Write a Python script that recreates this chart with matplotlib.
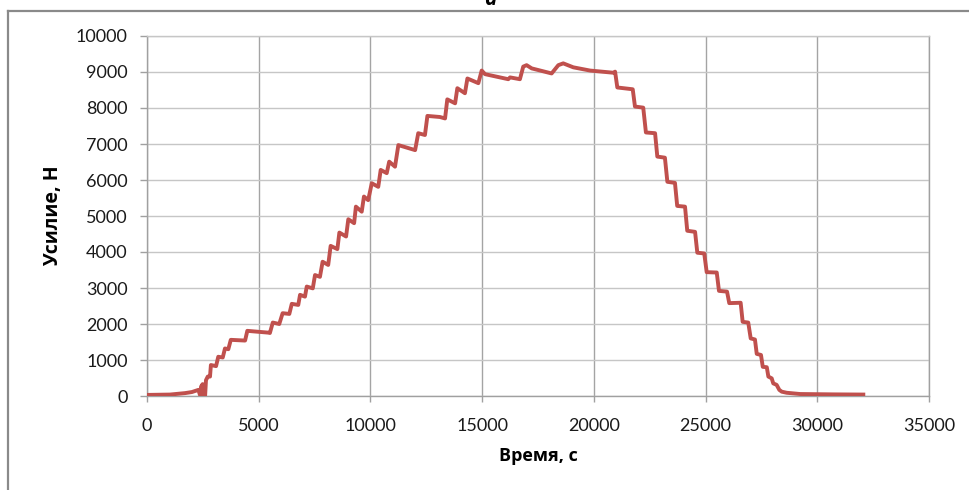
import matplotlib
matplotlib.use("Agg")
import matplotlib.pyplot as plt
from matplotlib.lines import Line2D

# ── Data (time, s / force, N) ────────────────────────────────────
time_s = [
    0, 1030, 1700, 2010, 2300, 2370, 2420, 2490, 2520, 2600,
    2640, 2720, 2820, 2860, 3090, 3190, 3390, 3490, 3640, 3750,
    4390, 4490, 5430, 5500, 5630, 5920, 6070, 6370, 6480, 6770,
    6850, 7070, 7150, 7420, 7520, 7740, 7860, 8110, 8220, 8520,
    8610, 8910, 9010, 9270, 9350, 9610, 9710, 9900, 10060, 10350,
    10460, 10730, 10840, 11100, 11250, 12000, 12140, 12440, 12550, 13110,
    13340, 13440, 13790, 13890, 14230, 14340, 14830, 14980, 15130, 15650,
    16170, 16250, 16690, 16840, 16990, 17220, 18110, 18410, 18630, 19080,
    19830, 20870, 20950, 21050, 21740, 21840, 22210, 22330, 22740, 22840,
    23180, 23290, 23630, 23730, 24080, 24180, 24530, 24630, 24940, 25050,
    25500, 25600, 25960, 26060, 26570, 26660, 26910, 27020, 27210, 27290,
    27480, 27560, 27740, 27810, 27960, 28030, 28180, 28300, 28410, 28630,
    29230, 30720, 32060,
]
force_n = [
    30, 40, 80, 110, 170, 30, 260, 330, 0, 0,
    440, 540, 540, 860, 830, 1090, 1070, 1320, 1300, 1560,
    1540, 1810, 1760, 1750, 2040, 2000, 2300, 2280, 2560, 2530,
    2810, 2760, 3040, 2990, 3360, 3310, 3730, 3640, 4170, 4080,
    4540, 4430, 4910, 4800, 5260, 5120, 5540, 5440, 5910, 5810,
    6280, 6190, 6510, 6370, 6970, 6830, 7300, 7250, 7780, 7750,
    7710, 8240, 8130, 8550, 8410, 8820, 8690, 9040, 8940, 8870,
    8800, 8850, 8800, 9150, 9190, 9100, 8960, 9190, 9240, 9130,
    9040, 8980, 9010, 8570, 8520, 8040, 8010, 7320, 7300, 6650,
    6620, 5950, 5920, 5280, 5260, 4590, 4560, 3980, 3960, 3440,
    3430, 2920, 2900, 2580, 2590, 2060, 2040, 1600, 1570, 1170,
    1140, 810, 800, 540, 490, 350, 310, 170, 120, 90,
    55, 45, 40,
]

x_ticks = list(range(0, 35001, 5000))
y_ticks = list(range(0, 10001, 1000))

LINE_COL = "#C0504D"
TICK_FONT = ["Lato", "Open Sans", "DejaVu Sans"]
LABEL_FONT = ["Open Sans", "DejaVu Sans"]

fig = plt.figure(figsize=(9.69, 4.90), dpi=100)
fig.patch.set_facecolor("white")

# outer chart-area frame (only top and left edges are inside the crop)
fig.add_artist(Line2D([8 / 969, 1.0], [1 - 11 / 490, 1 - 11 / 490],
                      transform=fig.transFigure, color="#8a8a8a", linewidth=1.6))
fig.add_artist(Line2D([8 / 969, 8 / 969], [0.0, 1 - 11 / 490],
                      transform=fig.transFigure, color="#8a8a8a", linewidth=1.6))

# panel letter, mostly cut off by the top edge as in the source
fig.text(490 / 969, 1 - 5 / 490, "а", fontsize=15, fontweight="bold",
         fontstyle="italic", ha="center", va="baseline", family=LABEL_FONT)

ax = fig.add_axes([147 / 969, 1 - 396 / 490, (929 - 147) / 969, (396 - 36) / 490])

ax.plot(time_s, force_n, color=LINE_COL, linewidth=2.8, solid_joinstyle="round",
        zorder=3)

ax.set_xlim(0, 35000)
ax.set_ylim(0, 10000)
ax.set_xticks(x_ticks)
ax.set_yticks(y_ticks)

ax.grid(axis="y", color="#c6c6c6", linewidth=1.0)
ax.grid(axis="x", color="#a4a4a4", linewidth=1.0)
ax.set_axisbelow(True)

for side in ("left", "bottom", "right"):
    ax.spines[side].set_color("#a0a0a0")
    ax.spines[side].set_linewidth(1.0)
ax.spines["top"].set_color("#c6c6c6")
ax.spines["top"].set_linewidth(1.0)

ax.tick_params(axis="y", direction="out", length=5, width=1.0, color="#a0a0a0",
               pad=9, labelsize=13, labelcolor="#1a1a1a")
ax.tick_params(axis="x", direction="out", length=4.5, width=1.0, color="#a0a0a0",
               pad=11, labelsize=13, labelcolor="#1a1a1a")
for lab in ax.get_xticklabels() + ax.get_yticklabels():
    lab.set_family(TICK_FONT)

ax.set_xlabel("Время, с", fontsize=13, fontweight="bold", family=LABEL_FONT,
              labelpad=10)
ax.set_ylabel("Усилие, Н", fontsize=14, fontweight="bold", family=LABEL_FONT,
              labelpad=9)

plt.savefig("out.png", dpi=100, facecolor=fig.get_facecolor())
plt.close(fig)
